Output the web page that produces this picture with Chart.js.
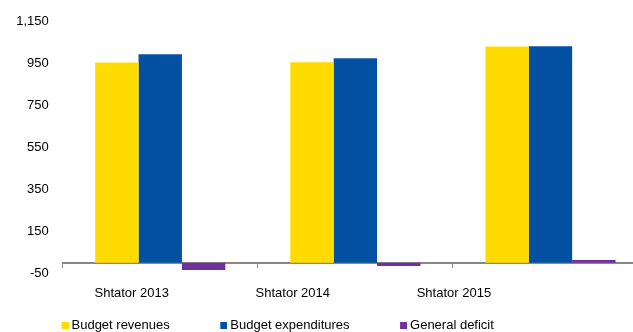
<!DOCTYPE html>
<html><head><meta charset="utf-8">
<script src="https://cdn.jsdelivr.net/npm/chart.js@4/dist/chart.umd.min.js"></script>
<style>
html,body{margin:0;padding:0;overflow:hidden;background:#fff;}
#wrap{position:absolute;left:0;top:0;width:648px;height:342px;}
</style></head><body>
<div id="wrap"><canvas id="c"></canvas></div>
<script>
const categories = ['Shtator 2013', 'Shtator 2014', 'Shtator 2015'];
const budgetRevenues = [956, 957, 1032];
const budgetExpenditures = [995, 976, 1033];
const generalDeficit = [-34, -15, 13];
const seriesNames = ['Budget revenues', 'Budget expenditures', 'General deficit'];
const yMin = -50, yMax = 1150, yStep = 200;
const colors = ['#FFDB00', '#0450A3', '#7030A0'];

function legendSwatch(color) {
  const c = document.createElement('canvas');
  c.width = 43; c.height = 7;
  const g = c.getContext('2d');
  g.fillStyle = color;
  g.fillRect(36, 0, 7, 7);
  return c;
}

Chart.defaults.font.family = "'Liberation Sans', Arial, sans-serif";
Chart.defaults.font.size = 13;
Chart.defaults.color = '#000';

new Chart(document.getElementById('c'), {
  type: 'bar',
  data: {
    labels: categories,
    datasets: [
      { label: seriesNames[0], data: budgetRevenues, backgroundColor: colors[0], xAxisID: 'x', yAxisID: 'y' },
      { label: seriesNames[1], data: budgetExpenditures, backgroundColor: colors[1], xAxisID: 'x', yAxisID: 'y' },
      { label: seriesNames[2], data: generalDeficit, backgroundColor: colors[2], xAxisID: 'x', yAxisID: 'y' }
    ]
  },
  options: {
    responsive: true,
    maintainAspectRatio: false,
    animation: false,
    locale: 'en-US',
    layout: { padding: { left: 11, top: 20, right: 0, bottom: 0 } },
    datasets: { bar: { categoryPercentage: 0.667, barPercentage: 1, borderWidth: 0 } },
    plugins: {
      tooltip: { enabled: false },
      legend: {
        position: 'bottom',
        align: 'start',
        labels: {
          usePointStyle: true,
          pointStyleWidth: 36,
          boxHeight: 7,
          padding: 18,
          color: '#000',
          generateLabels(chart) {
            const items = Chart.defaults.plugins.legend.labels.generateLabels(chart);
            items.forEach((it, i) => { it.pointStyle = legendSwatch(colors[i]); });
            return items;
          }
        }
      }
    },
    scales: {
      x: {
        type: 'category',
        position: { y: 0 },
        z: 1,
        offset: true,
        grid: { display: true, drawOnChartArea: false, drawTicks: true, tickLength: 4, color: '#888', lineWidth: 1, offset: true },
        border: { display: true, color: '#888', width: 2 },
        ticks: { display: false }
      },
      xl: {
        type: 'linear',
        position: 'bottom',
        offset: false,
        bounds: 'data',
        min: 0.5714,
        max: 4.205,
        grid: { display: false, drawTicks: false, offset: false },
        border: { display: false },
        ticks: { padding: 12, autoSkip: false, maxRotation: 0, callback: (v) => categories[v - 1] ?? '' },
        afterBuildTicks(s) { s.ticks = categories.map((_, i) => ({ value: i + 1 })); },
        afterFit(s) { s.height = 27.7; }
      },
      y: {
        min: yMin,
        max: yMax,
        ticks: { stepSize: yStep, padding: 14, color: '#000' },
        grid: { display: false, drawTicks: false },
        border: { display: false },
        afterFit(s) { s.width = 51.7; }
      }
    }
  }
});
</script>
</body></html>
